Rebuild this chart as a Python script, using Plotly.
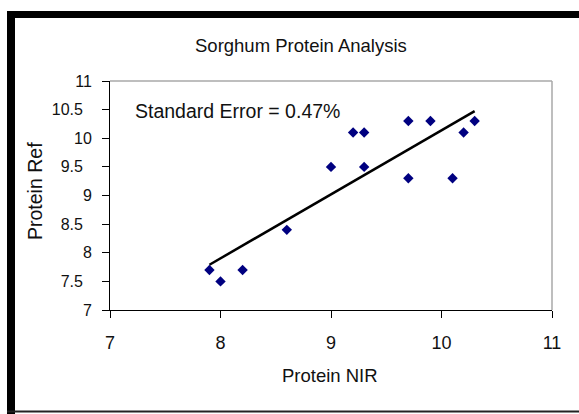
import plotly.graph_objects as go

# Data
protein_nir = [7.9, 8.0, 8.2, 8.6, 9.0, 9.2, 9.3, 9.3, 9.7, 9.7, 9.9, 10.1, 10.2, 10.3]
protein_ref = [7.7, 7.5, 7.7, 8.4, 9.5, 10.1, 10.1, 9.5, 10.3, 9.3, 10.3, 9.3, 10.1, 10.3]
trend_x = [7.9, 10.3]
trend_y = [7.79, 10.475]
x_ticks = [7, 8, 9, 10, 11]
y_ticks = [7, 7.5, 8, 8.5, 9, 9.5, 10, 10.5, 11]
y_tick_labels = ["7", "7.5", "8", "8.5", "9", "9.5", "10", "10.5", "11"]

W, H = 579, 414
L, R, T, B = 110, 27, 81, 104
PW, PH = W - L - R, H - T - B

def px(x):
    return (x - L) / PW

def py(y):
    return (H - B - y) / PH

FONT = "Arial, 'Liberation Sans', sans-serif"

fig = go.Figure()
fig.add_trace(go.Scatter(
    x=trend_x, y=trend_y, mode="lines",
    line=dict(color="black", width=2.5), hoverinfo="skip", showlegend=False))
fig.add_trace(go.Scatter(
    x=protein_nir, y=protein_ref, mode="markers",
    marker=dict(symbol="diamond", size=8, color="#000080"), showlegend=False))

# decimal labels sit one digit-width further left in the original
pad = '<span style="color:rgba(0,0,0,0)">0</span>'
ytext = [t if "." not in t else t + pad for t in y_tick_labels]

fig.update_layout(
    width=W, height=H,
    margin=dict(l=L, r=R, t=T, b=B, pad=0),
    paper_bgcolor="white", plot_bgcolor="white",
    font=dict(family=FONT, color="black"),
    xaxis=dict(range=[7, 11], tickvals=x_ticks, showgrid=False, zeroline=False,
               showline=True, linecolor="black", linewidth=1,
               ticks="outside", ticklen=7, tickcolor="black", tickwidth=1,
               tickfont=dict(size=18, family=FONT, color="#111111"), ticklabelstandoff=9),
    yaxis=dict(range=[7, 11], tickvals=y_ticks, ticktext=ytext, showgrid=False, zeroline=False,
               showline=True, linecolor="black", linewidth=1,
               ticks="outside", ticklen=7, tickcolor="black", tickwidth=1,
               tickfont=dict(size=16, family=FONT, color="#111111"), ticklabelstandoff=7),
    shapes=[
        # gray top and right plot-area border
        dict(type="line", xref="paper", yref="paper", x0=0, x1=1, y0=1, y1=1,
             line=dict(color="#a8a8a8", width=1.5)),
        dict(type="line", xref="paper", yref="paper", x0=1, x1=1, y0=0, y1=1,
             line=dict(color="#a8a8a8", width=1.5)),
        # outer black frame
        dict(type="rect", xref="paper", yref="paper", x0=px(7), x1=px(15), y0=py(414), y1=py(11),
             fillcolor="black", line=dict(width=0)),
        dict(type="rect", xref="paper", yref="paper", x0=px(7), x1=px(579), y0=py(18), y1=py(11),
             fillcolor="black", line=dict(width=0)),
        dict(type="rect", xref="paper", yref="paper", x0=px(7), x1=px(579), y0=py(412.5), y1=py(410.5),
             fillcolor="#222222", line=dict(width=0)),
    ],
    annotations=[
        dict(text="Sorghum Protein Analysis", xref="paper", yref="paper", x=px(300.5), y=py(45),
             xanchor="center", yanchor="middle", showarrow=False,
             font=dict(size=18.5, family=FONT, color="#111111")),
        dict(text="Standard Error = 0.47%", xref="x", yref="y", x=7.21, y=10.48,
             xanchor="left", yanchor="middle", showarrow=False,
             font=dict(size=19.5, family=FONT, color="#111111")),
        dict(text="Protein NIR", xref="paper", yref="paper", x=px(330), y=py(375),
             xanchor="center", yanchor="middle", showarrow=False,
             font=dict(size=18.5, family=FONT, color="#111111")),
        dict(text="Protein Ref", xref="paper", yref="paper", x=px(35), y=py(191), textangle=-90,
             xanchor="center", yanchor="middle", showarrow=False,
             font=dict(size=19.5, family=FONT, color="#111111")),
    ],
)

fig.write_html("out.html", config={"displayModeBar": False},
               post_script="document.body.style.margin='0';document.body.style.overflow='hidden';")
